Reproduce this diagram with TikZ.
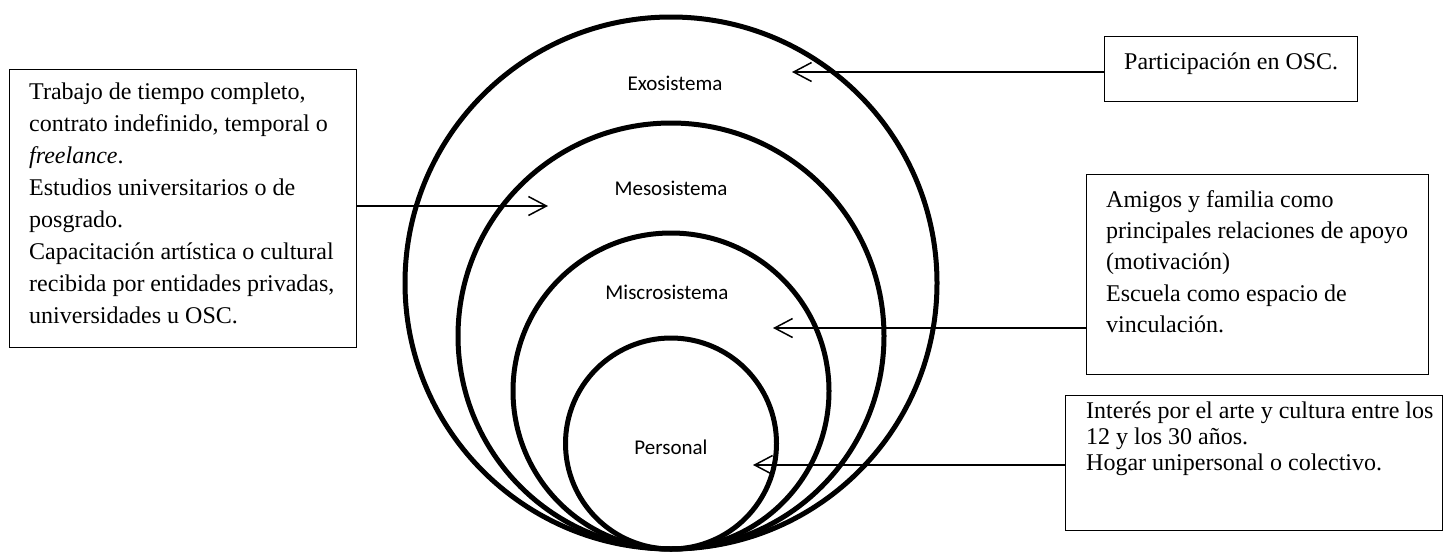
\documentclass[tikz,border=0pt]{standalone}
\usepackage{fontspec}
\setmainfont{Liberation Serif}
\newfontfamily\labelfont{Carlito}
\usetikzlibrary{arrows.meta}

\begin{document}
\begin{tikzpicture}[x=1pt,y=-1pt,
  ring/.style={line width=5pt},
  box/.style={draw, line width=1.2pt, inner sep=0pt, anchor=north west},
  boxtext/.style={anchor=north west, inner sep=0pt, align=left,
    font=\fontsize{24}{#1}\selectfont},
  boxtext/.default=32,
  syslabel/.style={inner sep=0pt, font=\labelfont\fontsize{21}{25}\selectfont},
  arr/.style={line width=1.5pt,
    -{Straight Barb[length=18pt,width=19pt,line width=1.5pt]}}]
\useasboundingbox (0,0) rectangle (1446,552);

% nested system circles, all touching at the bottom
\draw[ring] (671,283) circle[radius=266pt];
\draw[ring] (671,336) circle[radius=213pt];
\draw[ring] (671,391) circle[radius=158pt];
\draw[ring] (671,443.5) circle[radius=105.5pt];

% circle labels
\node[syslabel] (exo)   at (675,83)  {Exosistema};
\node[syslabel] (meso)  at (671,188) {Mesosistema};
\node[syslabel] (micro) at (667,292) {Miscrosistema};
\node[syslabel] (pers)  at (671,447) {Personal};

% description boxes
\node[box, minimum width=347pt, minimum height=278pt] (work) at (9,69) {};
\node[boxtext] (worktext) at (29,82.5) {Trabajo de tiempo completo,\\
  contrato indefinido, temporal o\\
  \textit{freelance}.\\
  Estudios universitarios o de\\
  posgrado.\\
  Capacitación artística o cultural\\
  recibida por entidades privadas,\\
  universidades u OSC.};

\node[box, minimum width=253pt, minimum height=65pt] (osc) at (1104,36) {};
\node[boxtext] (osctext) at (1124,52.5) {Participación en OSC.};

\node[box, minimum width=342pt, minimum height=200pt] (fam) at (1086,174) {};
\node[boxtext=31.3] (famtext) at (1106,190) {Amigos y familia como\\
  principales relaciones de apoyo\\
  (motivación)\\
  Escuela como espacio de\\
  vinculación.};

\node[box, minimum width=377pt, minimum height=135pt] (home) at (1065,395) {};
\node[boxtext=26] (hometext) at (1086,402) {Interés por el arte y cultura entre los\\
  12 y los 30 años.\\
  Hogar unipersonal o colectivo.};

% arrow tips inside the rings
\coordinate (exotip)   at (792,72);
\coordinate (mesotip)  at (548,206);
\coordinate (microtip) at (773,328);
\coordinate (perstip)  at (753,465);

% connectors
\draw[arr] (osc.west |- exotip) -- (exotip);
\draw[arr] (work.east |- mesotip) -- (mesotip);
\draw[arr] (fam.west |- microtip) -- (microtip);
\draw[arr] (home.west |- perstip) -- (perstip);
\end{tikzpicture}
\end{document}
